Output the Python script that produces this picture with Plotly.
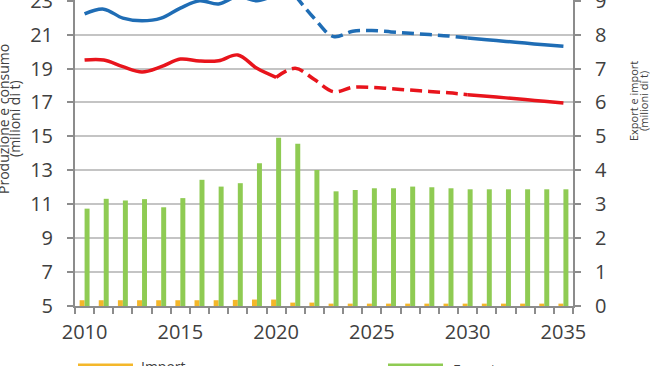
import plotly.graph_objects as go

# ---------------- data ----------------
years = list(range(2010, 2036))
tick_years = [2010, 2015, 2020, 2025, 2030, 2035]

# Export / Import (right axis, milioni di t)
export_vals = [2.87, 3.16, 3.11, 3.15, 2.91, 3.18, 3.72, 3.52, 3.62, 4.21, 4.96, 4.78, 4.01,
               3.38, 3.42, 3.47, 3.47, 3.52, 3.50, 3.47, 3.44, 3.44, 3.44, 3.44, 3.44, 3.44]
import_vals = [0.17, 0.17, 0.17, 0.17, 0.17, 0.17, 0.17, 0.17, 0.18, 0.19, 0.19, 0.10, 0.10,
               0.07, 0.07, 0.07, 0.07, 0.07, 0.07, 0.07, 0.07, 0.07, 0.07, 0.07, 0.07, 0.07]

# Produzione (blue) and Consumo (red) (left axis, milioni di t)
produzione = [22.22, 22.50, 21.97, 21.81, 21.97, 22.56, 22.99, 22.81, 23.25, 23.00, 23.30, 23.30, 21.95,
              20.88, 21.20, 21.24, 21.16, 21.08, 21.00, 20.92, 20.80, 20.70, 20.60, 20.50, 20.40, 20.31]
consumo = [19.50, 19.50, 19.11, 18.80, 19.11, 19.56, 19.44, 19.46, 19.80, 19.01, 18.48, 19.01, 18.35,
           17.63, 17.89, 17.89, 17.81, 17.73, 17.65, 17.57, 17.46, 17.36, 17.27, 17.17, 17.07, 16.97]

# segment boundaries (year where the style changes)
prod_dash_from, dash_to = 2021, 2030
cons_dash_from = 2020

# ---------------- style ----------------
BLUE = "#1f6db5"
RED = "#e8141c"
GREEN = "#8fcb53"
ORANGE = "#f4b72a"
AXIS = "#8c8c8c"
GRID = "#c4c4c4"
TXT = "#404040"
FONT = "Open Sans"

W, H = 650, 366
ML, MR, MT, MB = 75, 77, 0, 60
PW = W - ML - MR
PH = H - MT - MB


def px(X):
    return (X - ML) / PW


def py(Y):
    return (H - MB - Y) / PH


fig = go.Figure()

fig.add_trace(go.Bar(x=years, y=import_vals, name="Import", marker_color=ORANGE,
                     marker_line_width=0, yaxis="y2"))
fig.add_trace(go.Bar(x=years, y=export_vals, name="Export", marker_color=GREEN,
                     marker_line_width=0, yaxis="y2"))


def add_series(vals, color, dash_from, name):
    i1 = years.index(dash_from)
    i2 = years.index(dash_to)
    segs = [(0, i1, "solid"), (i1, i2, "dash"), (i2, len(years) - 1, "solid")]
    for a, b, d in segs:
        fig.add_trace(go.Scatter(
            x=years[a:b + 1], y=vals[a:b + 1], mode="lines", name=name,
            line=dict(color=color, width=3.5, shape="spline", smoothing=1,
                      dash="12px,6px" if d == "dash" else "solid"),
            yaxis="y"))


add_series(produzione, BLUE, prod_dash_from, "Produzione")
add_series(consumo, RED, cons_dash_from, "Consumo")

fig.update_layout(
    template="none",
    width=W, height=H,
    margin=dict(l=ML, r=MR, t=MT, b=MB, pad=0),
    paper_bgcolor="white", plot_bgcolor="white",
    showlegend=False,
    barmode="group", bargap=0.48, bargroupgap=0,
    font=dict(family=FONT, color=TXT),
    xaxis=dict(
        range=[2009.5, 2035.5],
        tickmode="array", tickvals=tick_years, ticktext=[str(t) for t in tick_years],
        ticks="outside", ticklen=6, tickcolor="rgba(0,0,0,0)",
        minor=dict(tickmode="array", tickvals=[y - 0.5 for y in years] + [years[-1] + 0.5],
                   ticks="outside", ticklen=6, tickwidth=1.5, tickcolor=AXIS),
        showline=True, linecolor=AXIS, linewidth=2,
        showgrid=False, zeroline=False,
        tickfont=dict(size=20, color=TXT, family=FONT),
        ticklabelstandoff=1,
    ),
    yaxis=dict(
        range=[5, 23.04], tick0=5, dtick=2, tickmode="linear",
        ticks="outside", ticklen=6, tickwidth=2, tickcolor=AXIS,
        showline=True, linecolor=AXIS, linewidth=2,
        showgrid=True, gridcolor=GRID, gridwidth=1.5, zeroline=False,
        tickfont=dict(size=20, color=TXT, family=FONT),
        ticklabelstandoff=10, ticklabeloverflow="allow",
    ),
    yaxis2=dict(
        overlaying="y", side="right",
        range=[0, 9.02], tick0=0, dtick=1, tickmode="linear",
        ticks="outside", ticklen=6, tickwidth=2, tickcolor=AXIS,
        showline=True, linecolor=AXIS, linewidth=2,
        showgrid=False, zeroline=False,
        tickfont=dict(size=20, color=TXT, family=FONT),
        ticklabelstandoff=10, ticklabeloverflow="allow",
    ),
)

ann = []
# axis titles
ann.append(dict(text="Produzione e consumo", x=px(4), y=py(119), textangle=-90,
                font=dict(size=14, color=TXT, family=FONT)))
ann.append(dict(text="(milioni di t)", x=px(15), y=py(119), textangle=-90,
                font=dict(size=14, color=TXT, family=FONT)))
ann.append(dict(text="Export e import", x=px(633), y=py(101), textangle=-90,
                font=dict(size=11, color=TXT, family=FONT)))
ann.append(dict(text="(milioni di t)", x=px(643), y=py(101), textangle=-90,
                font=dict(size=11, color=TXT, family=FONT)))
# legend texts
ann.append(dict(text="Import", x=px(139), y=py(355), xanchor="left", yanchor="top",
                font=dict(size=14, color=TXT, family=FONT)))
ann.append(dict(text="Export", x=px(451), y=py(358), xanchor="left", yanchor="top",
                font=dict(size=14, color=TXT, family=FONT)))
for a in ann:
    a.update(xref="paper", yref="paper", showarrow=False)
    a.setdefault("xanchor", "center")
    a.setdefault("yanchor", "middle")
fig.update_layout(annotations=ann)

fig.update_layout(shapes=[
    dict(type="line", xref="paper", yref="paper", x0=px(78), x1=px(133), y0=py(365), y1=py(365),
         line=dict(color=ORANGE, width=3)),
    dict(type="line", xref="paper", yref="paper", x0=px(388), x1=px(443), y0=py(365), y1=py(365),
         line=dict(color=GREEN, width=3)),
])

fig.write_html(
    "out.html",
    config={"displayModeBar": False},
    post_script="document.body.style.margin='0';document.body.style.overflow='hidden';",
)
